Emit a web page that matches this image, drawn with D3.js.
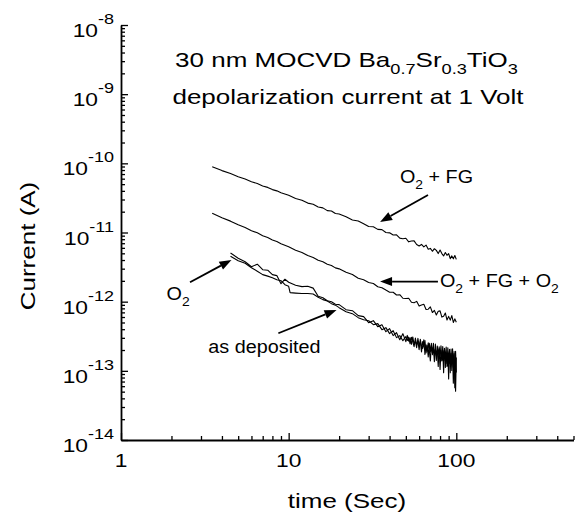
<!DOCTYPE html>
<html><head><meta charset="utf-8">
<script src="https://cdn.jsdelivr.net/npm/d3@7"></script>
<style>body{margin:0;background:#fff} svg{display:block}</style>
</head><body>
<svg id="c" width="576" height="513"></svg>
<script>
// ---------------- DATA ----------------
const xTickValues = [1, 10, 100];
const xTickLabels = ["1", "10", "100"];
const yTickExponents = [-8, -9, -10, -11, -12, -13, -14];

const timeUpper = [3.5,4,4.5,5,5.5,6,6.5,7,7.5,8,8.5,9,10,11,12,13,14,15,16,17,18,19,20,22,24,26,28,30,32,34,36,38,40,42,44,46,48,50,52,54,56,58,60,62,64,66,68,70,72,74,76,78,80,82,84,86,88,90,92,94,96,98,100];

const currentO2FG = [8.91e-11,7.85e-11,7.12e-11,6.40e-11,5.93e-11,5.42e-11,5.10e-11,4.71e-11,4.49e-11,4.17e-11,4.00e-11,3.75e-11,
3.46e-11,3.11e-11,2.93e-11,2.66e-11,2.56e-11,2.34e-11,2.27e-11,2.07e-11,2.05e-11,1.88e-11,1.85e-11,
1.69e-11,1.52e-11,1.47e-11,1.34e-11,1.22e-11,1.21e-11,1.11e-11,1.10e-11,1.00e-11,
9.89e-12,9.20e-12,9.25e-12,8.29e-12,8.14e-12,8.25e-12,7.33e-12,7.53e-12,7.57e-12,6.71e-12,6.37e-12,6.72e-12,6.19e-12,6.58e-12,5.74e-12,5.89e-12,
5.35e-12,5.83e-12,5.52e-12,4.96e-12,5.57e-12,4.95e-12,4.59e-12,5.13e-12,4.68e-12,4.96e-12,4.19e-12,4.59e-12,4.16e-12,4.64e-12,4.09e-12];

const currentO2FGO2 = [1.90e-11,1.64e-11,1.46e-11,1.29e-11,1.18e-11,1.06e-11,9.90e-12,9.00e-12,8.48e-12,7.80e-12,7.40e-12,6.88e-12,
6.22e-12,5.55e-12,5.12e-12,4.64e-12,4.36e-12,3.98e-12,3.78e-12,3.47e-12,3.34e-12,3.08e-12,2.98e-12,
2.66e-12,2.47e-12,2.18e-12,2.07e-12,1.89e-12,1.83e-12,1.64e-12,1.59e-12,1.47e-12,
1.37e-12,1.37e-12,1.25e-12,1.26e-12,1.12e-12,1.11e-12,1.12e-12,9.79e-13,9.67e-13,1.01e-12,8.63e-13,8.95e-13,9.15e-13,7.71e-13,7.78e-13,8.40e-13,
6.96e-13,7.48e-13,6.42e-13,7.27e-13,7.35e-13,5.98e-13,6.15e-13,6.86e-13,5.43e-13,6.13e-13,5.41e-13,6.29e-13,5.01e-13,5.64e-13,5.05e-13];

const timeO2 = [4.5,5,5.5,6,6.5,7,7.5,8,8.5,9,9.5,10,11,12,13,14,15,16,17,18,19,20,22,24,26,28,30,32,34,36,38,40,42,44,46,48,50,
51,52,53,54,55,56,57,58,59,60,61,62,63,64,65,66,67,68,69,70,71,72,73,74,75,76,77,78,79,80,81,82,83,84,85,86,87,88,89,90,91,92,93,94,95,96,97,98,99,100];

const currentO2 = [5.06e-12,4.25e-12,3.78e-12,3.20e-12,3.48e-12,2.90e-12,2.85e-12,2.46e-12,2.38e-12,1.82e-12,2.11e-12,1.91e-12,
1.73e-12,1.65e-12,1.67e-12,1.57e-12,1.20e-12,1.14e-12,1.03e-12,1.00e-12,9.20e-13,9.05e-13,
7.66e-13,7.41e-13,6.28e-13,6.07e-13,4.97e-13,5.31e-13,4.35e-13,4.65e-13,3.68e-13,4.07e-13,3.23e-13,3.56e-13,2.82e-13,3.45e-13,2.64e-13,
3.25e-13,2.69e-13,3.01e-13,2.42e-13,3.09e-13,2.40e-13,2.69e-13,2.16e-13,2.96e-13,2.31e-13,
2.67e-13,1.88e-13,2.66e-13,2.21e-13,2.75e-13,1.81e-13,2.33e-13,1.59e-13,2.50e-13,1.88e-13,
2.50e-13,1.71e-13,2.19e-13,1.36e-13,2.43e-13,1.66e-13,2.00e-13,1.16e-13,2.23e-13,1.63e-13,
2.31e-13,1.39e-13,1.97e-13,9.36e-14,2.12e-13,1.41e-13,2.21e-13,1.16e-13,1.77e-13,7.61e-14,
2.04e-13,1.27e-13,1.80e-13,1.01e-13,2.08e-13,1.13e-13,1.78e-13,5.68e-14,1.92e-13,9.45e-14];

const timeAsDeposited = [4.5,5,5.5,6,6.5,7,7.5,8,8.5,9,9.5,10,10.2,11,12,13,14,15,16,17,18,19,20,22,24,26,28,30,32,34,36,38,40,42,44,46,48,50,
51,52,53,54,55,56,57,58,59,60,61,62,63,64,65,66,67,68,69,70,71,72,73,74,75,76,77,78,79,80,81,82,83,84,85,86,87,88,89,90,91,92,93,94,95,96,97,98,99,100];

const currentAsDeposited = [4.54e-12,3.91e-12,3.60e-12,3.10e-12,2.76e-12,2.46e-12,2.34e-12,2.22e-12,2.08e-12,2.01e-12,1.76e-12,1.67e-12,1.35e-12,
1.33e-12,1.31e-12,1.31e-12,1.29e-12,1.16e-12,1.07e-12,1.02e-12,9.36e-13,8.90e-13,8.19e-13,
7.17e-13,6.71e-13,5.87e-13,5.49e-13,5.31e-13,4.65e-13,4.81e-13,3.94e-13,4.21e-13,3.45e-13,3.81e-13,3.02e-13,3.23e-13,2.73e-13,3.12e-13,
2.75e-13,3.07e-13,2.46e-13,3.05e-13,2.62e-13,2.24e-13,2.97e-13,2.38e-13,2.68e-13,2.02e-13,
2.85e-13,2.30e-13,2.11e-13,2.80e-13,1.73e-13,2.37e-13,1.91e-13,2.54e-13,1.98e-13,1.39e-13,
2.34e-13,1.83e-13,2.51e-13,1.66e-13,2.06e-13,1.41e-13,2.29e-13,1.73e-13,2.09e-13,1.05e-13,
1.96e-13,1.43e-13,2.25e-13,1.54e-13,1.99e-13,1.12e-13,1.81e-13,1.28e-13,2.16e-13,1.39e-13,
1.91e-13,9.39e-14,2.06e-13,1.27e-13,1.70e-13,6.64e-14,1.90e-13,1.03e-13,5.07e-14,1.56e-13];

// annotation anchors in data units [time, current]
const annotations = [
  {label: [["O"],["2","sub"],[" + FG"]], at: [46.1, 5.14e-11], from: [67.8, 3.48e-11], to: [35.1, 1.42e-11]},
  {label: [["O"],["2","sub"],[" + FG + O"],["2","sub"]], at: [79.9, 1.65e-12], from: [77.7, 1.95e-12], to: [35.1, 1.95e-12]},
  {label: [["O"],["2","sub"]], at: [1.87, 1.06e-12], from: [2.58, 1.91e-12], to: [4.56, 4.01e-12]},
  {label: [["as deposited"]], at: [3.32, 1.79e-13], from: [8.68, 3.49e-13], to: [19.3, 7.59e-13]}
];

// ---------------- DRAW ----------------
const FONT = "'Liberation Sans', Arial, Helvetica, sans-serif";
const svg = d3.select("#c");
const x = d3.scaleLog().domain([1, 500]).range([121, 573.5]);
const y = d3.scaleLog().domain([1e-14, 1e-8]).range([440, 25]);

function richText(parent, px, py, parts, o) {
  const size = o.size, sx = o.sx || 1;
  const g = parent.append("g").attr("transform", `translate(${px},${py}) rotate(${o.rotate || 0}) scale(${sx},1)`);
  const t = g.append("text").attr("font-family", FONT).attr("font-size", size)
    .attr("text-anchor", o.anchor || "start").attr("fill", "#000");
  let shift = 0;
  parts.forEach(p => {
    const kind = p[1];
    const s = kind === "sub" ? o.subShift : kind === "sup" ? -o.supShift : 0;
    t.append("tspan").attr("font-size", kind ? o.smallSize : size).attr("dy", s - shift).text(p[0]);
    shift = s;
  });
  return t;
}

// minor tick values
const xMinor = [], yMinor = [];
[1, 10, 100].forEach(d => { for (let m = 2; m <= 9; m++) { const v = m * d; if (v <= 500) xMinor.push(v); } });
yTickExponents.forEach(e => { if (e < -8) for (let m = 2; m <= 9; m++) yMinor.push(m * Math.pow(10, e)); });
const yMajor = yTickExponents.map(e => Math.pow(10, e));

const axisG = svg.append("g");
axisG.append("g").attr("transform", "translate(0,440)")
  .call(d3.axisBottom(x).tickValues(xTickValues).tickSize(-7).tickSizeOuter(0).tickFormat(""));
axisG.append("g").attr("transform", "translate(0,440)")
  .call(d3.axisBottom(x).tickValues(xMinor).tickSize(-4).tickSizeOuter(0).tickFormat(""))
  .select(".domain").remove();
axisG.append("g").attr("transform", "translate(121,0)")
  .call(d3.axisLeft(y).tickValues(yMajor).tickSize(-7).tickSizeOuter(0).tickFormat(""));
axisG.append("g").attr("transform", "translate(121,0)")
  .call(d3.axisLeft(y).tickValues(yMinor).tickSize(-4).tickSizeOuter(0).tickFormat(""))
  .select(".domain").remove();
axisG.selectAll(".domain").attr("stroke", "#000").attr("stroke-width", 1.8);
axisG.selectAll(".tick line").attr("stroke", "#000").attr("stroke-width", 1.3);

// tick labels
xTickValues.forEach((v, i) => {
  richText(svg, x(v), 466.5, [[xTickLabels[i]]], {size: 19, sx: 1.2, anchor: "middle"});
});
yTickExponents.forEach(e => {
  richText(svg, 114, y(Math.pow(10, e)) + 12, [["10"], [String(e), "sup"]],
    {size: 19, smallSize: 15, supShift: 13, sx: 1.2, anchor: "end"});
});

// axis titles
richText(svg, 347, 508, [["time (Sec)"]], {size: 20, sx: 1.3, anchor: "middle"});
richText(svg, 35, 246, [["Current (A)"]], {size: 20, sx: 1.3, anchor: "middle", rotate: -90});

// chart title
richText(svg, 346.5, 66.5, [["30 nm MOCVD Ba"], ["0.7", "sub"], ["Sr"], ["0.3", "sub"], ["TiO"], ["3", "sub"]],
  {size: 20, smallSize: 14, subShift: 7, sx: 1.3, anchor: "middle"});
richText(svg, 348, 104, [["depolarization current at 1 Volt"]], {size: 20, sx: 1.3, anchor: "middle"});

// data lines
const line = d3.line().x(d => x(d[0])).y(d => y(d[1]));
const seriesList = [
  {t: timeUpper, v: currentO2FG, w: 1.1},
  {t: timeUpper, v: currentO2FGO2, w: 1.1},
  {t: timeO2, v: currentO2, w: 1.1},
  {t: timeAsDeposited, v: currentAsDeposited, w: 1.1}
];
seriesList.forEach(s => {
  const pts = s.t.map((t, i) => [t, s.v[i]]);
  svg.append("path").datum(pts).attr("d", line).attr("fill", "none")
    .attr("stroke", "#000").attr("stroke-width", s.w).attr("stroke-linejoin", "round");
});

// annotations
annotations.forEach(a => {
  const x1 = x(a.from[0]), y1 = y(a.from[1]), x2 = x(a.to[0]), y2 = y(a.to[1]);
  const ang = Math.atan2(y2 - y1, x2 - x1), L = 12, hw = 4.5;
  const bx = x2 - L * Math.cos(ang), by = y2 - L * Math.sin(ang);
  svg.append("line").attr("x1", x1).attr("y1", y1).attr("x2", bx).attr("y2", by)
    .attr("stroke", "#000").attr("stroke-width", 1.8);
  svg.append("path").attr("d", `M${x2},${y2}L${bx + hw * Math.sin(ang)},${by - hw * Math.cos(ang)}L${bx - hw * Math.sin(ang)},${by + hw * Math.cos(ang)}Z`)
    .attr("fill", "#000");
  richText(svg, x(a.at[0]), y(a.at[1]), a.label, {size: 18.5, smallSize: 13, subShift: 6, sx: 1.07});
});
</script>
</body></html>
